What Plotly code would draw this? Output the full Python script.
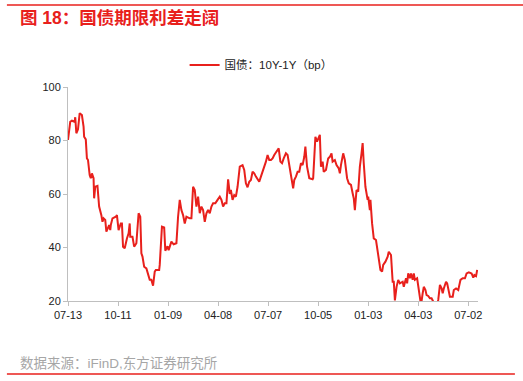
import plotly.graph_objects as go

dates = [
"2023-07-13","2023-07-17","2023-07-20","2023-07-25","2023-07-26","2023-07-28","2023-07-31",
"2023-08-03","2023-08-07","2023-08-10","2023-08-11","2023-08-14","2023-08-16","2023-08-18",
"2023-08-21","2023-08-23","2023-08-25","2023-08-28","2023-08-29","2023-08-31","2023-09-04",
"2023-09-07","2023-09-11","2023-09-13","2023-09-15","2023-09-18","2023-09-20","2023-09-25",
"2023-09-27","2023-09-28","2023-10-01","2023-10-07","2023-10-09","2023-10-12","2023-10-16",
"2023-10-18","2023-10-20","2023-10-23","2023-10-27","2023-10-30","2023-11-01","2023-11-02",
"2023-11-06","2023-11-09","2023-11-13","2023-11-15","2023-11-17","2023-11-20","2023-11-22",
"2023-11-24","2023-11-27","2023-12-01","2023-12-04","2023-12-07","2023-12-10","2023-12-13",
"2023-12-16","2023-12-18","2023-12-24","2023-12-25","2023-12-29","2024-01-02","2024-01-04",
"2024-01-08","2024-01-10","2024-01-15","2024-01-19","2024-01-24","2024-01-27","2024-01-30",
"2024-02-02","2024-02-05","2024-02-08","2024-02-11","2024-02-17","2024-02-20","2024-02-23",
"2024-02-26","2024-02-29","2024-03-03","2024-03-06","2024-03-09","2024-03-12","2024-03-15",
"2024-03-18","2024-03-21","2024-03-24","2024-03-27","2024-03-30","2024-04-03","2024-04-07",
"2024-04-11","2024-04-14","2024-04-17","2024-04-20","2024-04-23","2024-04-26","2024-04-29",
"2024-05-01","2024-05-04","2024-05-07","2024-05-10","2024-05-13","2024-05-17","2024-05-22",
"2024-05-25","2024-05-28","2024-05-31","2024-06-03","2024-06-06","2024-06-09","2024-06-12",
"2024-06-15","2024-06-18","2024-06-21","2024-06-24","2024-06-27","2024-06-30","2024-07-03",
"2024-07-06","2024-07-09","2024-07-12","2024-07-15","2024-07-18","2024-07-23","2024-07-26",
"2024-07-29","2024-08-01","2024-08-04","2024-08-08","2024-08-11","2024-08-14","2024-08-17",
"2024-08-21","2024-08-23","2024-08-26","2024-08-29","2024-09-01","2024-09-04","2024-09-07",
"2024-09-10","2024-09-12","2024-09-15","2024-09-19","2024-09-25","2024-09-26","2024-09-30",
"2024-10-03","2024-10-08","2024-10-10","2024-10-13","2024-10-15","2024-10-19","2024-10-23",
"2024-10-26","2024-10-29","2024-10-31","2024-11-04","2024-11-07","2024-11-11","2024-11-13",
"2024-11-15","2024-11-19","2024-11-22","2024-11-26","2024-11-29","2024-12-03","2024-12-06",
"2024-12-08","2024-12-10","2024-12-13","2024-12-16","2024-12-19","2024-12-22","2024-12-24",
"2024-12-26","2024-12-29","2025-01-02","2025-01-03","2025-01-06","2025-01-07","2025-01-10",
"2025-01-13","2025-01-17","2025-01-20","2025-01-22","2025-01-25","2025-01-28","2025-01-30",
"2025-02-03","2025-02-07","2025-02-09","2025-02-13","2025-02-16","2025-02-18","2025-02-20",
"2025-02-23","2025-02-26","2025-03-01","2025-03-06","2025-03-08","2025-03-12","2025-03-14",
"2025-03-16","2025-03-19","2025-03-21","2025-03-24","2025-03-26","2025-03-28","2025-04-01",
"2025-04-03","2025-04-06","2025-04-08","2025-04-11","2025-04-13","2025-04-16","2025-04-18",
"2025-04-21","2025-04-24","2025-04-27","2025-04-30","2025-05-03","2025-05-06","2025-05-09",
"2025-05-12","2025-05-15","2025-05-17","2025-05-19","2025-05-23","2025-05-25","2025-05-28",
"2025-05-30","2025-06-04","2025-06-06","2025-06-10","2025-06-14","2025-06-18","2025-06-22",
"2025-06-26","2025-06-29","2025-07-03","2025-07-08","2025-07-11","2025-07-13","2025-07-16",
"2025-07-18",
]

spread_bp = [
80.2,87.0,87.4,87.0,88.7,82.7,84.2,
90.2,89.5,85.2,81.4,80.4,73.3,72.7,
67.1,65.9,67.7,65.9,58.4,62.7,63.0,
55.3,52.1,49.6,50.9,50.3,45.9,48.4,
46.5,48.4,50.9,51.5,52.1,46.5,49.0,
49.0,40.3,39.7,43.4,45.3,49.0,44.0,
44.0,40.3,41.6,49.0,52.8,51.5,37.8,
36.6,32.8,32.2,29.7,27.9,27.9,25.7,
31.0,31.6,31.6,33.5,47.8,47.5,38.8,
40.5,39.0,42.2,41.2,41.6,51.5,57.8,
54.0,52.1,49.0,51.5,50.9,50.9,62.7,
61.5,55.3,59.0,52.8,55.3,54.0,49.6,
52.8,54.0,52.8,55.3,56.5,56.5,57.8,
59.0,57.8,55.3,56.5,56.5,65.5,60.0,
61.5,57.8,59.6,59.0,62.7,70.2,70.8,
69.0,64.0,62.5,64.6,65.2,68.3,67.7,
66.5,65.5,64.6,66.5,68.3,70.2,72.1,
74.6,72.7,72.7,73.3,74.6,76.4,77.1,
72.1,71.5,73.3,75.2,74.6,71.5,67.1,
62.1,65.2,66.5,68.3,68.3,71.5,70.8,
73.9,77.7,70.2,65.9,65.5,65.9,81.4,
79.6,82.1,70.2,72.1,68.3,69.0,73.3,
73.9,75.2,72.1,72.7,70.8,69.6,67.7,
70.8,75.2,72.7,65.9,64.0,63.4,60.3,
58.4,54.0,61.5,60.9,70.2,75.2,79.0,
71.5,62.7,57.8,59.0,54.0,57.8,49.0,
43.4,42.8,39.1,36.6,31.6,31.0,33.5,
34.7,36.6,38.4,37.2,27.2,27.2,20.2,
25.3,27.9,26.6,27.2,25.3,28.5,26.6,
30.3,28.5,30.3,27.9,30.3,27.9,28.5,
25.3,21.0,18.5,22.9,25.3,24.1,22.2,
21.9,21.0,21.0,19.8,17.5,17.8,20.4,
26.0,24.7,22.9,24.7,27.2,26.6,24.1,
21.6,21.6,24.1,24.7,24.1,27.9,28.5,
28.5,30.3,30.7,30.3,28.7,29.7,29.3,
31.6,
]

tick_dates = ["2023-07-13","2023-10-11","2024-01-09","2024-04-08","2024-07-07",
              "2024-10-05","2025-01-03","2025-04-03","2025-07-02"]
tick_labels = ["07-13","10-11","01-09","04-08","07-07","10-05","01-03","04-03","07-02"]

series_name = "国债：10Y-1Y（bp）"
title_text = "图 18：国债期限利差走阔"
source_text = "数据来源：iFinD,东方证券研究所"

RED = "#E8201C"
FONT = "Liberation Sans, Arial, Noto Sans CJK SC, sans-serif"

fig = go.Figure()
fig.add_trace(go.Scatter(x=dates, y=spread_bp, mode="lines", name=series_name,
                         line=dict(color=RED, width=2), showlegend=True))

fig.update_layout(
    width=523, height=381,
    margin=dict(l=68, r=45, t=87, b=80),
    paper_bgcolor="white", plot_bgcolor="white",
    font=dict(family=FONT, size=11, color="#222222"),
    showlegend=True,
    legend=dict(orientation="h", x=0.471, xanchor="center", y=1.103, yanchor="middle",
                font=dict(size=11.5, color="#222222"), bgcolor="rgba(0,0,0,0)"),
    xaxis=dict(type="date", range=["2023-07-13", "2025-07-19 12:00"],
               tickvals=tick_dates, ticktext=tick_labels, tickangle=0,
               showgrid=False, zeroline=False, showline=True, linecolor="#BFBFBF", linewidth=1,
               ticks="outside", ticklen=4, tickcolor="#BFBFBF",
               tickfont=dict(size=11, color="#222222")),
    yaxis=dict(range=[20, 100], tickvals=[20, 40, 60, 80, 100],
               showgrid=False, zeroline=False, showline=True, linecolor="#BFBFBF", linewidth=1,
               ticks="outside", ticklen=4, tickcolor="#BFBFBF",
               tickfont=dict(size=11, color="#222222")),
    shapes=[
        dict(type="line", xref="paper", yref="paper", x0=-0.149, x1=1.11, y0=1.383, y1=1.383,
             line=dict(color=RED, width=1.5)),
        dict(type="line", xref="paper", yref="paper", x0=-0.149, x1=1.09, y0=-0.341, y1=-0.341,
             line=dict(color=RED, width=1.5)),
    ],
    annotations=[
        dict(text="<b>" + title_text + "</b>", xref="paper", yref="paper", x=-0.122, y=1.322,
             xanchor="left", yanchor="middle", showarrow=False,
             font=dict(size=17.5, color=RED, family=FONT)),
        dict(text=source_text, xref="paper", yref="paper", x=-0.122, y=-0.294,
             xanchor="left", yanchor="middle", showarrow=False,
             font=dict(size=13.5, color="#A6A6A6", family=FONT)),
    ],
)

fig.write_html("out.html")
